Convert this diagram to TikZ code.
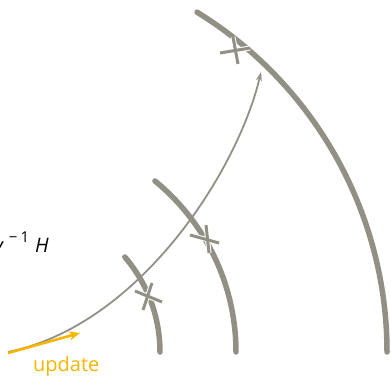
\documentclass[tikz,border=0pt]{standalone}
\usepackage{fontspec}
\setmainfont{Open Sans}
\usetikzlibrary{arrows.meta}
\definecolor{arcgray}{HTML}{929084}
\definecolor{upyellow}{HTML}{F7B500}
\tikzset{
  thickarc/.style={draw=arcgray, line width=5.5pt, line cap=round},
  thinarc/.style={draw=arcgray, line width=1.8pt, -{Stealth[length=9pt,width=6pt]}},
  crosshalo/.style={draw=white, line width=5pt},
  crossmark/.style={draw=arcgray, line width=3pt},
  updarrow/.style={draw=upyellow, line width=2.6pt, -{Stealth[length=11pt,width=9pt]}},
  lbl/.style={inner sep=0pt, font=\fontsize{20}{20}\selectfont}
}
\begin{document}
\begin{tikzpicture}[x=1pt,y=-1pt]
\useasboundingbox (0,0) rectangle (391,377);
% thick arcs (centres left of picture)
\draw[thickarc] (160,352) arc[start angle=0, end angle=-40.6, radius=146];
\draw[thickarc] (236,352) arc[start angle=0, end angle=-50.7, radius=221];
\draw[thickarc] (387,352) arc[start angle=0, end angle=-58.4, radius=399];
% thin curve with arrow
\coordinate (s) at (8,352);
\coordinate (t) at (261,72);
\draw[thinarc] (s) .. controls (140,325) and (238,170) .. (t);
% crosses
\foreach \a/\b/\c/\d in {220/53/250/48, 233/37/238/64, 190/235/219/243, 206/225/209/253, 135/291/162/302, 152/283/143/310}{
  \draw[crosshalo] (\a,\b) -- (\c,\d);
}
\foreach \a/\b/\c/\d in {220/53/250/48, 233/37/238/64, 190/235/219/243, 206/225/209/253, 135/291/162/302, 152/283/143/310}{
  \draw[crossmark] (\a,\b) -- (\c,\d);
}
% update arrow
\coordinate (ua) at (8,353);
\coordinate (ub) at (80,333);
\draw[updarrow] (ua) -- (ub);
\node[lbl, text=upyellow, anchor=base west] (upd) at (33,371) {update};
\node[lbl, anchor=base east] (gam) at (49,252) {\textit{γ}\hspace{5pt}\raisebox{0.5em}{\fontsize{15}{15}\selectfont −\hspace{3pt}1}\hspace{6pt}\textit{H}};
\end{tikzpicture}
\end{document}
